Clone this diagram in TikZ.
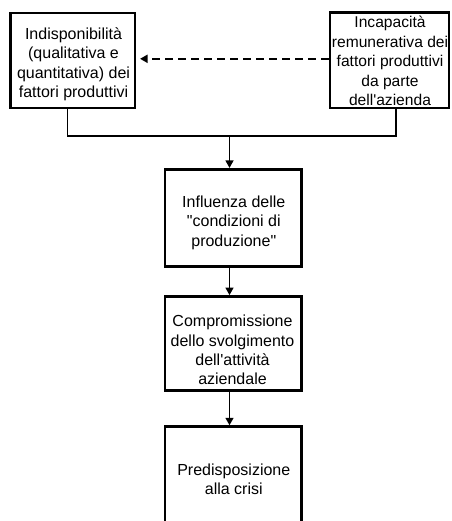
\documentclass[tikz,border=0pt]{standalone}
\usepackage{fontspec}
\setmainfont{Liberation Sans}[Ligatures=TeXOff]
\usetikzlibrary{arrows.meta}
\begin{document}
\begin{tikzpicture}[x=1pt,y=-1pt,
  stepbox/.style={draw=black, line width=2.8pt, inner sep=0pt, fill=white},
  boxtext/.style={inner sep=0pt, align=center, anchor=base,
    font=\fontsize{16}{19.4}\selectfont},
  link/.style={line width=1.4pt, draw=black},
  arr/.style={link, -{Triangle[width=8pt,length=7.5pt]}},
]
\useasboundingbox (0,0) rectangle (451,521);
\clip (0,0) rectangle (451,521);

% boxes
\node[stepbox, minimum width=124.7pt, minimum height=95pt]   (lb) at (72.7,60.5) {};
\node[stepbox, minimum width=119pt,   minimum height=95.3pt] (rb) at (389.5,60.4) {};
\node[stepbox, minimum width=136.7pt, minimum height=97.4pt] (b2) at (233.3,218) {};
\node[stepbox, minimum width=136.7pt, minimum height=94pt]   (b3) at (233.3,343.5) {};
\node[stepbox, minimum width=136.7pt, minimum height=118.3pt] (b4) at (233.3,485.8) {};

% texts (anchored at the baseline of the last line)
\node[boxtext] (tl) at (73.5,97.5) {Indisponibilità\\(qualitativa e\\quantitativa) dei\\fattori produttivi};
\node[boxtext, font=\fontsize{15.6}{19.4}\selectfont] (tr) at (390,105.6) {Incapacità\\remunerativa dei\\fattori produttivi\\da parte\\dell'azienda};
\node[boxtext] (t2) at (233.8,246.1) {Influenza delle\\"condizioni di\\produzione"};
\node[boxtext] (t3) at (232.5,384.9) {Compromissione\\dello svolgimento\\dell'attività\\aziendale};
\node[boxtext] (t4) at (233.8,494.4) {Predisposizione\\alla crisi};

% joining lines
\coordinate (jl) at (67.7,136);
\coordinate (jr) at (396,136);
\coordinate (spine) at (229.5,136);
\coordinate (dy) at (0,58.8);
\draw[link] (jl |- lb.south) -- (jl) -- (jr) -- (jr |- rb.south);
\draw[arr] (spine) -- (spine |- b2.north);
\draw[arr] (spine |- b2.south) -- (spine |- b3.north);
\draw[arr] (spine |- b3.south) -- (spine |- b4.north);
\draw[arr, line width=1.8pt, dash pattern=on 8pt off 5pt, shorten >=3.6pt]
  (rb.west |- dy) -- (lb.east |- dy);
\end{tikzpicture}
\end{document}
